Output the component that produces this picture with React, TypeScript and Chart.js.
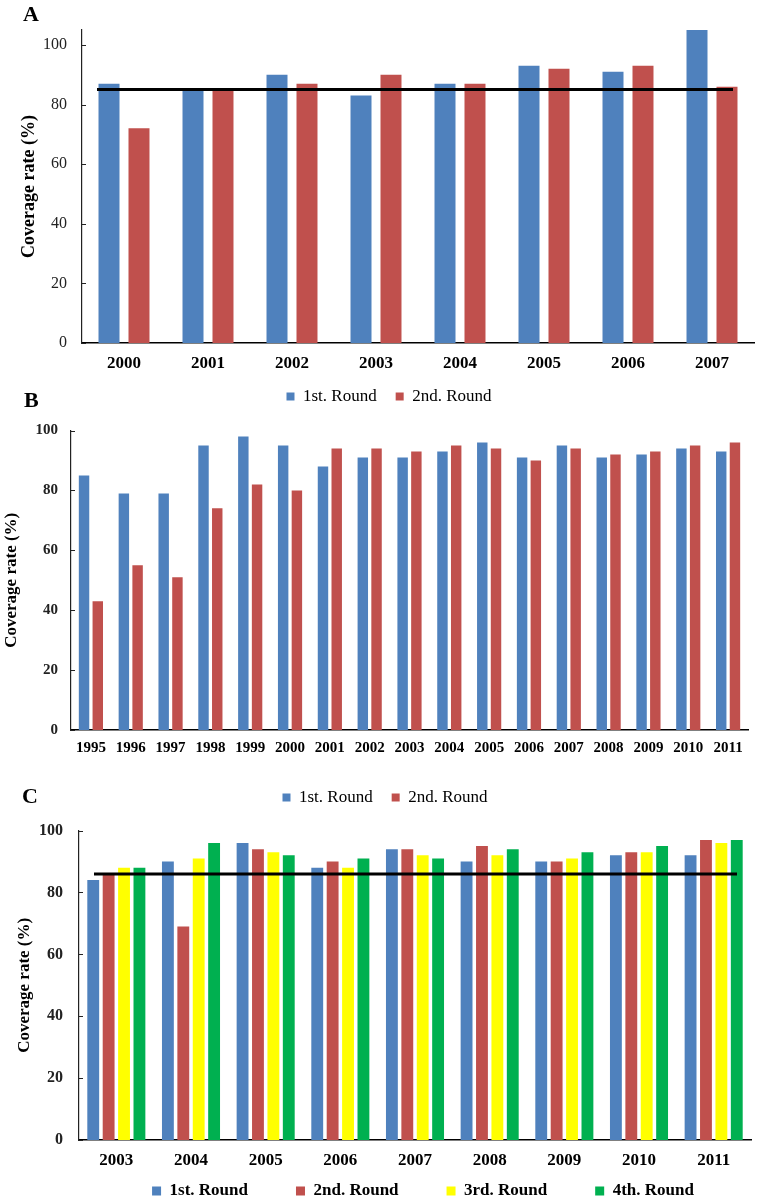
import React, { useEffect, useRef } from "react";
import { Chart, registerables } from "chart.js";

Chart.register(...registerables);

const FONT = '"Liberation Serif", "Times New Roman", Times, serif';

// ---------- data ----------
const yearsA = ["2000", "2001", "2002", "2003", "2004", "2005", "2006", "2007"];
const a1stRound = [87, 85, 90, 83, 87, 93, 91, 105];
const a2ndRound = [72, 85, 87, 90, 87, 92, 93, 86];
const aTarget = 85;

const yearsB = ["1995", "1996", "1997", "1998", "1999", "2000", "2001", "2002", "2003", "2004", "2005", "2006", "2007", "2008", "2009", "2010", "2011"];
const b1stRound = [85, 79, 79, 95, 98, 95, 88, 91, 91, 93, 96, 91, 95, 91, 92, 94, 93];
const b2ndRound = [43, 55, 51, 74, 82, 80, 94, 94, 93, 95, 94, 90, 94, 92, 93, 95, 96];

const yearsC = ["2003", "2004", "2005", "2006", "2007", "2008", "2009", "2010", "2011"];
const c1stRound = [84, 90, 96, 88, 94, 90, 90, 92, 92];
const c2ndRound = [86, 69, 94, 90, 94, 95, 90, 93, 97];
const c3rdRound = [88, 91, 93, 88, 92, 92, 91, 93, 96];
const c4thRound = [88, 96, 92, 91, 91, 94, 93, 95, 97];
const cTarget = 86;

const yTickValues = [0, 20, 40, 60, 80, 100];
const seriesNames = ["1st. Round", "2nd. Round", "3rd. Round", "4th. Round"];
const seriesColors = ["#4F81BD", "#C0504D", "#FFFF00", "#00B050"];
const yTitle = "Coverage rate (%)";

// ---------- plugin: legend placement, inward y ticks, target line ----------
const decorPlugin = {
  id: "decor",
  afterLayout(chart: any, _args: any, opts: any) {
    const lg = chart.legend;
    if (lg) {
      const dx = opts.legendDX || 0;
      const dy = opts.legendDY || 0;
      lg.left += dx;
      lg.right += dx;
      lg.top += dy;
      lg.bottom += dy;
    }
  },
  afterDatasetsDraw(chart: any, _args: any, opts: any) {
    const { ctx, chartArea, scales } = chart;
    const y = scales.y;
    ctx.save();
    ctx.strokeStyle = opts.tickColor || "#222";
    ctx.lineWidth = 1;
    y.ticks.forEach((t: any) => {
      const py = Math.round(y.getPixelForValue(t.value)) + 0.5;
      ctx.beginPath();
      ctx.moveTo(chartArea.left, py);
      ctx.lineTo(chartArea.left + (opts.tickLen || 4), py);
      ctx.stroke();
    });
    if (opts.target != null) {
      const py = y.getPixelForValue(opts.target);
      ctx.strokeStyle = "#000";
      ctx.lineWidth = 3;
      ctx.beginPath();
      ctx.moveTo(chartArea.left + opts.insetL, py);
      ctx.lineTo(chartArea.right - opts.insetR, py);
      ctx.stroke();
    }
    ctx.restore();
  },
};

type Spec = {
  top: number;
  h: number;
  labels: string[];
  series: number[][];
  yMax: number;
  cp: number;
  bp: number;
  pad: { left: number; right: number; top: number; bottom: number };
  yW: number;
  xH: number;
  yTickPad: number;
  xTickPad: number;
  titlePad: number;
  yTickFont: any;
  xTickFont: any;
  titleFont: any;
  legendFont: any;
  legendPad: number;
  legendDX: number;
  legendDY: number;
  box: number;
  target: number | null;
  insetL: number;
  insetR: number;
};

function buildConfig(s: Spec): any {
  return {
    type: "bar",
    data: {
      labels: s.labels,
      datasets: s.series.map((d, i) => ({
        label: seriesNames[i],
        data: d,
        backgroundColor: seriesColors[i],
        borderWidth: 0,
        categoryPercentage: s.cp,
        barPercentage: s.bp,
      })),
    },
    options: {
      responsive: false,
      animation: false,
      devicePixelRatio: 1,
      layout: { padding: s.pad },
      plugins: {
        legend: {
          position: "bottom",
          labels: {
            boxWidth: s.box,
            boxHeight: s.box,
            padding: s.legendPad,
            color: "#000",
            font: { family: FONT, ...s.legendFont },
          },
        },
        tooltip: { enabled: false },
        decor: {
          target: s.target,
          insetL: s.insetL,
          insetR: s.insetR,
          tickLen: 4,
          tickColor: "#222",
          legendDX: s.legendDX,
          legendDY: s.legendDY,
        },
      },
      scales: {
        x: {
          grid: { display: false, drawTicks: false },
          border: { display: true, color: "#000", width: 1.5 },
          ticks: {
            color: "#000",
            padding: s.xTickPad,
            autoSkip: false,
            maxRotation: 0,
            font: { family: FONT, ...s.xTickFont },
          },
          afterFit: (sc: any) => {
            sc.height = s.xH;
          },
        },
        y: {
          min: 0,
          max: s.yMax,
          grid: { display: false, drawTicks: false },
          border: { display: true, color: "#222", width: 1.2 },
          ticks: {
            color: "#222",
            padding: s.yTickPad,
            font: { family: FONT, ...s.yTickFont },
          },
          afterBuildTicks: (sc: any) => {
            sc.ticks = yTickValues.map((v) => ({ value: v }));
          },
          afterFit: (sc: any) => {
            sc.width = s.yW;
          },
          title: {
            display: true,
            text: yTitle,
            color: "#000",
            font: { family: FONT, ...s.titleFont },
            padding: { top: s.titlePad, bottom: 0 },
          },
        },
      },
    },
    plugins: [decorPlugin],
  };
}

const specA: Spec = {
  top: 0,
  h: 415,
  labels: yearsA,
  series: [a1stRound, a2ndRound],
  yMax: 105,
  cp: 0.714,
  bp: 0.7,
  pad: { left: 0, right: 5, top: 30, bottom: 0 },
  yW: 82,
  xH: 26,
  yTickPad: 15,
  xTickPad: 10,
  titlePad: 18.7,
  yTickFont: { size: 16, weight: "normal" },
  xTickFont: { size: 17, weight: "bold" },
  titleFont: { size: 18, weight: "bold" },
  legendFont: { size: 17, weight: "normal" },
  legendPad: 19,
  legendDX: 12,
  legendDY: 0,
  box: 8,
  target: aTarget,
  insetL: 15,
  insetR: 21,
};

const specB: Spec = {
  top: 405,
  h: 411,
  labels: yearsB,
  series: [b1stRound, b2ndRound],
  yMax: 100,
  cp: 0.69,
  bp: 0.76,
  pad: { left: 0, right: 11, top: 25.5, bottom: 0 },
  yW: 71,
  xH: 40,
  yTickPad: 13,
  xTickPad: 9,
  titlePad: 1.5,
  yTickFont: { size: 15, weight: "bold" },
  xTickFont: { size: 15, weight: "bold" },
  titleFont: { size: 17, weight: "bold" },
  legendFont: { size: 17, weight: "normal" },
  legendPad: 19,
  legendDX: 11,
  legendDY: 0,
  box: 8,
  target: null,
  insetL: 0,
  insetR: 0,
};

const specC: Spec = {
  top: 805,
  h: 440,
  labels: yearsC,
  series: [c1stRound, c2ndRound, c3rdRound, c4thRound],
  yMax: 100,
  cp: 0.825,
  bp: 0.77,
  pad: { left: 0, right: 8, top: 21, bottom: 0 },
  yW: 79,
  xH: 30,
  yTickPad: 16,
  xTickPad: 10,
  titlePad: 14.8,
  yTickFont: { size: 16, weight: "bold" },
  xTickFont: { size: 17, weight: "bold" },
  titleFont: { size: 17, weight: "bold" },
  legendFont: { size: 17, weight: "bold" },
  legendPad: 48,
  legendDX: 47.5,
  legendDY: -35.5,
  box: 9,
  target: cTarget,
  insetL: 15,
  insetR: 14,
};

function Panel({ spec }: { spec: Spec }) {
  const ref = useRef<HTMLCanvasElement>(null);
  useEffect(() => {
    if (!ref.current) return;
    const chart = new Chart(ref.current, buildConfig(spec));
    return () => chart.destroy();
  }, [spec]);
  return (
    <canvas
      ref={ref}
      width={759}
      height={spec.h}
      style={{ position: "absolute", left: 0, top: spec.top, width: 759, height: spec.h }}
    />
  );
}

const letterStyle = (left: number, top: number): React.CSSProperties => ({
  position: "absolute",
  left,
  top,
  fontFamily: FONT,
  fontWeight: "bold",
  fontSize: 22,
  lineHeight: "22px",
  color: "#000",
});

export default function App() {
  return (
    <div
      style={{
        position: "absolute",
        left: 0,
        top: 0,
        width: 759,
        height: 1200,
        overflow: "hidden",
        background: "#fff",
      }}
    >
      <Panel spec={specA} />
      <Panel spec={specB} />
      <Panel spec={specC} />
      <div style={letterStyle(23, 3)}>A</div>
      <div style={letterStyle(24, 389)}>B</div>
      <div style={letterStyle(22, 785)}>C</div>
    </div>
  );
}
